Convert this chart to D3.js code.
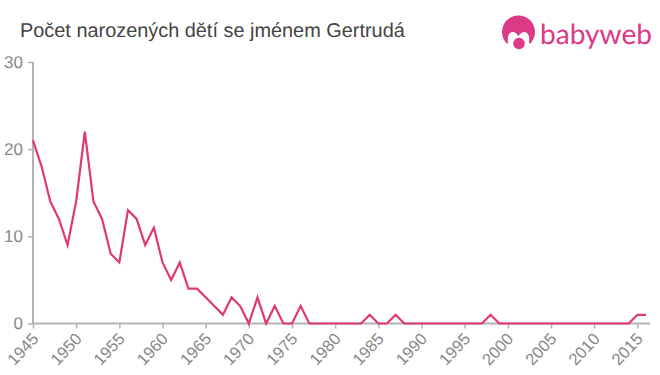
<!DOCTYPE html>
<html>
<head>
<meta charset="utf-8">
<script src="https://cdn.jsdelivr.net/npm/d3@7"></script>
<style>
  html, body { margin: 0; padding: 0; background: #fff; }
  svg { display: block; }
  text { font-family: "Liberation Sans", Arial, sans-serif; text-rendering: geometricPrecision; }
</style>
</head>
<body>
<svg width="660" height="375"></svg>
<script>
const title = "Počet narozených dětí se jménem Gertrudá";
const years = d3.range(1945, 2017);
const counts = [
  21, 18, 14, 12, 9, 14, 22, 14, 12, 8,
  7, 13, 12, 9, 11, 7, 5, 7, 4, 4,
  3, 2, 1, 3, 2, 0, 3, 0, 2, 0,
  0, 2, 0, 0, 0, 0, 0, 0, 0, 1,
  0, 0, 1, 0, 0, 0, 0, 0, 0, 0,
  0, 0, 0, 1, 0, 0, 0, 0, 0, 0,
  0, 0, 0, 0, 0, 0, 0, 0, 0, 0,
  1, 1
];
const yTicks = [0, 10, 20, 30];
const xTicks = d3.range(1945, 2016, 5);

const svg = d3.select("svg");
const x = d3.scaleLinear().domain([1945, 2016]).range([33, 646]);
const y = d3.scaleLinear().domain([0, 30]).range([323.5, 62]);

svg.append("text")
  .attr("x", 20)
  .attr("y", 36.5)
  .attr("font-size", 19.9)
  .attr("fill", "#444")
  .text(title);

// Axes
const axisColor = "#b3b3b3";
const yAxis = svg.append("g")
  .attr("transform", "translate(33,0)")
  .call(d3.axisLeft(y).tickValues(yTicks).tickSize(5).tickPadding(5));
const xAxis = svg.append("g")
  .attr("transform", "translate(0,323.5)")
  .call(d3.axisBottom(x).tickValues(xTicks).tickFormat(d3.format("d")).tickSize(5));

xAxis.select(".domain").attr("d", "M33,0H650");
yAxis.select(".domain").attr("d", "M0,62V323.5");
svg.selectAll(".domain").attr("stroke", axisColor).attr("stroke-width", 2);
svg.selectAll(".tick line").attr("stroke", axisColor).attr("stroke-width", 1.5);

yAxis.selectAll("text")
  .attr("font-size", 17)
  .attr("font-family", "Liberation Sans")
  .attr("fill", "#888");
xAxis.selectAll("text")
  .attr("font-size", 16.5)
  .attr("font-family", "Liberation Sans")
  .attr("fill", "#888")
  .attr("text-anchor", "end")
  .attr("dx", 0)
  .attr("dy", 0)
  .attr("y", 0)
  .attr("transform", "translate(6,16) rotate(-47)");

// Line
const line = d3.line()
  .x((d, i) => x(years[i]))
  .y((d) => y(d));
svg.append("path")
  .datum(counts)
  .attr("d", line)
  .attr("fill", "none")
  .attr("stroke", "#e0396e")
  .attr("stroke-width", 2.2)
  .attr("stroke-linejoin", "miter");

// Logo
const pink = "#dc3a86";
const logo = svg.append("g").attr("fill", pink);
logo.append("circle").attr("cx", 518.5).attr("cy", 32).attr("r", 16.5);
logo.append("path")
  .attr("fill", "#fff")
  .attr("d", "M508,43 C507,36 509,32 513,32 C515,32 517,34 518.5,36 C520,34 522,32 524,32 C528,32 530,36 529,43 L536,50 L501,50 Z");
logo.append("circle").attr("cx", 519).attr("cy", 43.5).attr("r", 5.8);
logo.append("text")
  .attr("x", 540)
  .attr("y", 43.5)
  .attr("font-size", 28)
  .style("font-family", "Lato")
  .attr("textLength", 112)
  .attr("lengthAdjust", "spacingAndGlyphs")
  .text("babyweb");
</script>
</body>
</html>
